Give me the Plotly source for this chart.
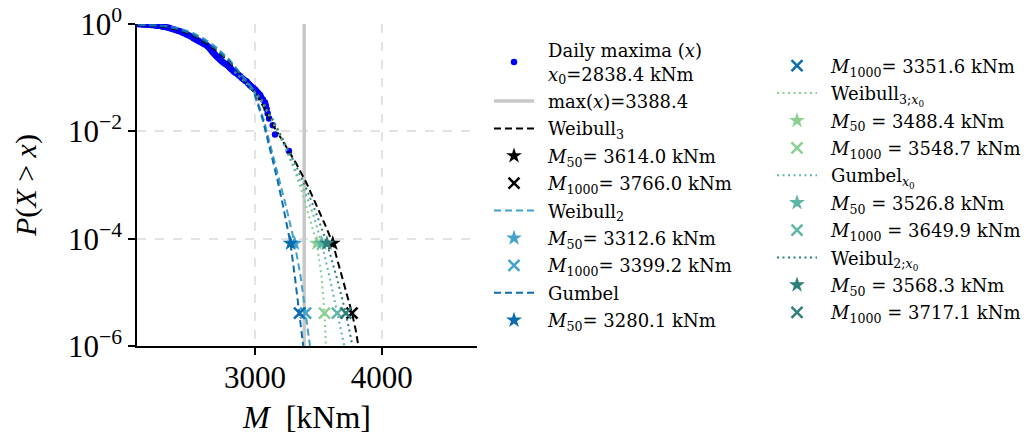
import plotly.graph_objects as go

# ---------------- data ----------------
# empirical daily maxima (sorted) and their exceedance probability
maxima_M = [2079, 2092, 2105, 2118, 2130, 2143, 2156, 2168, 2180, 2193, 2206, 2218, 2231, 2244,
            2256, 2268, 2280, 2295, 2310, 2325, 2340, 2355, 2370, 2385, 2400, 2415, 2430, 2445,
            2460, 2475, 2490, 2505, 2515, 2528, 2540, 2552, 2565, 2578, 2590, 2603, 2615, 2625,
            2635, 2645, 2655, 2663, 2671, 2680, 2690, 2700, 2712, 2724, 2737, 2750, 2763, 2777,
            2790, 2803, 2816, 2830, 2843, 2856, 2870, 2883, 2896, 2909, 2922, 2934, 2947, 2960,
            2973, 2987, 3000, 3012, 3025, 3040, 3048, 3062, 3079, 3085, 3092, 3100, 3111, 3140,
            3158, 3268]
maxima_P = [0.996, 0.992, 0.988, 0.984, 0.980, 0.976, 0.971, 0.966, 0.961, 0.955, 0.948, 0.940,
            0.932, 0.923, 0.913, 0.902, 0.890, 0.875, 0.860, 0.840, 0.820, 0.800, 0.780, 0.760,
            0.740, 0.715, 0.690, 0.665, 0.640, 0.615, 0.590, 0.565, 0.545, 0.525, 0.505, 0.485,
            0.465, 0.450, 0.435, 0.420, 0.405, 0.385, 0.365, 0.345, 0.325, 0.305, 0.290, 0.275,
            0.260, 0.245, 0.230, 0.216, 0.203, 0.192, 0.182, 0.174, 0.163, 0.152, 0.142, 0.132,
            0.125, 0.120, 0.112, 0.106, 0.099, 0.093, 0.088, 0.085, 0.078, 0.072, 0.068, 0.064,
            0.060, 0.056, 0.052, 0.0476, 0.0433, 0.039, 0.0346, 0.0303, 0.026, 0.0216, 0.0173,
            0.013, 0.0087, 0.0043]
x0 = 2838.4
max_x = 3388.4

# fitted exceedance curves
weib3_M = [2079, 2200, 2300, 2400, 2500, 2600, 2700, 2800, 2900, 3000, 3070, 3140, 3250, 3330,
           3408, 3487, 3555, 3614, 3670, 3720, 3766, 3795, 3816]
weib3_P = [0.955, 0.925, 0.87, 0.77, 0.63, 0.46, 0.31, 0.19, 0.105, 0.052, 0.028, 0.0132, 0.005,
           0.0024, 0.00107, 4.2e-4, 1.78e-4, 8.2e-5, 2.8e-5, 1.07e-5, 4.1e-6, 2.0e-6, 1.0e-6]

weib2_M = [2079, 2200, 2300, 2400, 2500, 2600, 2700, 2800, 2900, 2990, 3070, 3125, 3195, 3245,
           3312.6, 3360, 3399.2, 3434]
weib2_P = [0.975, 0.95, 0.91, 0.83, 0.70, 0.53, 0.36, 0.215, 0.11, 0.058, 0.0162, 0.0052, 0.00123,
           4.0e-4, 8.2e-5, 2.0e-5, 4.1e-6, 1.0e-6]

gumb_M = [2079, 2200, 2300, 2400, 2500, 2600, 2700, 2800, 2900, 2990, 3062, 3113, 3178, 3222,
          3280.1, 3314, 3351.6, 3381]
gumb_P = [0.99, 0.96, 0.90, 0.80, 0.66, 0.49, 0.33, 0.20, 0.105, 0.055, 0.0162, 0.0052, 0.00123,
          4.0e-4, 8.2e-5, 2.0e-5, 4.1e-6, 1.0e-6]

weib3x0_M = [2838.4, 2950, 3050, 3150, 3250, 3320, 3380, 3430, 3488.4, 3525, 3548.7, 3560]
weib3x0_P = [0.128, 0.072, 0.037, 0.0135, 0.0042, 0.00166, 6.3e-4, 2.5e-4, 8.2e-5, 2.0e-5,
             4.1e-6, 1.0e-6]

gumbx0_M = [2838.4, 2950, 3050, 3150, 3250, 3330, 3400, 3460, 3526.8, 3590, 3649.9, 3705]
gumbx0_P = [0.128, 0.072, 0.038, 0.0138, 0.0045, 0.0017, 6.8e-4, 2.8e-4, 8.2e-5, 1.86e-5,
            4.1e-6, 1.0e-6]

weib2x0_M = [2838.4, 2950, 3050, 3150, 3250, 3340, 3420, 3495, 3568.3, 3645, 3717.1, 3770]
weib2x0_P = [0.128, 0.074, 0.040, 0.0151, 0.0052, 0.0019, 7.1e-4, 2.5e-4, 8.2e-5, 1.9e-5,
             4.1e-6, 1.0e-6]

P50 = 8.2e-5
P1000 = 4.1e-6
fit_names = ["Weibull<sub>3</sub>", "Weibull<sub>2</sub>", "Gumbel",
             "Weibull<sub>3;<i>x</i><sub>0</sub></sub>", "Gumbel<sub><i>x</i><sub>0</sub></sub>",
             "Weibul<sub>2;<i>x</i><sub>0</sub></sub>"]
M50 = [3614.0, 3312.6, 3280.1, 3488.4, 3526.8, 3568.3]
M1000 = [3766.0, 3399.2, 3351.6, 3548.7, 3649.9, 3717.1]
eq_sep = ["= ", "= ", "= ", " = ", " = ", " = "]

# ---------------- styling ----------------
colors = ["#000000", "#43a2ca", "#0c6cb0", "#8ccf93", "#5fb5a6", "#2e7f79"]
dashes = ["7px,4px", "7px,4px", "7px,4px", "2px,3.5px", "2px,3.5px", "2px,3.5px"]
curves_M = [weib3_M, weib2_M, gumb_M, weib3x0_M, gumbx0_M, weib2x0_M]
curves_P = [weib3_P, weib2_P, gumb_P, weib3x0_P, gumbx0_P, weib2x0_P]
SERIF = "Liberation Serif"
LEGSERIF = "DejaVu Serif"
PAD = "\u2002"   # small gap between legend handle and label

fig = go.Figure()

rank = [0]


def nxt():
    rank[0] += 1
    return rank[0]


fig.add_trace(go.Scatter(
    x=maxima_M, y=maxima_P, mode="markers",
    marker=dict(color="#0000ff", size=6.5, line=dict(width=0)),
    name=PAD + "Daily maxima (<i>x</i>)<br>" + PAD + "<i>x</i><sub>0</sub>=%.1f kNm" % x0,
    legend="legend", legendgroup="g0", legendrank=nxt()))

fig.add_trace(go.Scatter(
    x=[max_x, max_x], y=[1e-6, 1.0], mode="lines",
    line=dict(color="#c8c8c8", width=3.5),
    name=PAD + "max(<i>x</i>)=%.1f" % max_x,
    legend="legend", legendgroup="g1", legendrank=nxt()))

count = 1
for i in range(6):
    entries = []
    entries.append(go.Scatter(
        x=curves_M[i], y=curves_P[i], mode="lines",
        line=dict(color=colors[i], width=2, dash=dashes[i]),
        name=PAD + fit_names[i]))
    entries.append(go.Scatter(
        x=[M50[i]], y=[P50], mode="markers",
        marker=dict(symbol="star", color=colors[i], size=12, line=dict(width=0)),
        name=PAD + "<i>M</i><sub>50</sub>%s%.1f kNm" % (eq_sep[i], M50[i])))
    entries.append(go.Scatter(
        x=[M1000[i]], y=[P1000], mode="markers",
        marker=dict(symbol="x-thin", color=colors[i], size=11,
                    line=dict(width=2.5, color=colors[i])),
        name=PAD + "<i>M</i><sub>1000</sub>%s%.1f kNm" % (eq_sep[i], M1000[i])))
    for tr in entries:
        count += 1
        tr.update(legendgroup="g%d" % count, legendrank=nxt(),
                  legend="legend" if count < 10 else "legend2")
        fig.add_trace(tr)

W, H = 1027, 437
PL, PR, PT, PB = 137, 477, 24, 346   # plot area in pixels
leg_common = dict(
    xref="paper", yref="paper", xanchor="left", yanchor="top",
    font=dict(family=LEGSERIF, size=18, color="black"),
    bgcolor="rgba(0,0,0,0)", borderwidth=0, itemwidth=40,
    tracegroupgap=1, traceorder="grouped", valign="middle")


def px_to_paper_x(px):
    return (px - PL) / (PR - PL)


def px_to_paper_y(py):
    return (PB - py) / (PB - PT)


fig.update_layout(
    width=W, height=H,
    margin=dict(l=PL, r=W - PR, t=PT, b=H - PB, autoexpand=False),
    paper_bgcolor="white", plot_bgcolor="white",
    font=dict(family=SERIF, color="black"),
    legend=dict(x=px_to_paper_x(489), y=px_to_paper_y(32), **leg_common),
    legend2=dict(x=px_to_paper_x(772), y=px_to_paper_y(47.5), **leg_common),
    showlegend=True,
)

fig.update_xaxes(
    range=[2068, 4753], tickvals=[3000, 4000], ticktext=["3000", "4000"],
    tickfont=dict(family=SERIF, size=31), ticks="outside", ticklen=7, tickwidth=1.5,
    ticklabelstandoff=-4,
    tickcolor="black", showline=True, linecolor="black", linewidth=1.5,
    showgrid=True, gridcolor="#e3e3e3", gridwidth=1.5, griddash="dash", zeroline=False,
    title=dict(text="<i>M</i>  [kNm]", font=dict(family=SERIF, size=32), standoff=12),
)
fig.update_yaxes(
    type="log", range=[-6, 0], tickvals=[1, 1e-2, 1e-4, 1e-6],
    ticktext=["10<sup>0</sup>", "10<sup>−2</sup>", "10<sup>−4</sup>", "10<sup>−6</sup>"],
    tickfont=dict(family=SERIF, size=31), ticks="outside", ticklen=7, tickwidth=1.5,
    tickcolor="black", showline=True, linecolor="black", linewidth=1.5,
    showgrid=True, gridcolor="#e3e3e3", gridwidth=1.5, griddash="dash", zeroline=False,
    title=dict(text="<i>P</i>(<i>X</i> > <i>x</i>)", font=dict(family=SERIF, size=30), standoff=22),
)

fig.write_html("out.html")
